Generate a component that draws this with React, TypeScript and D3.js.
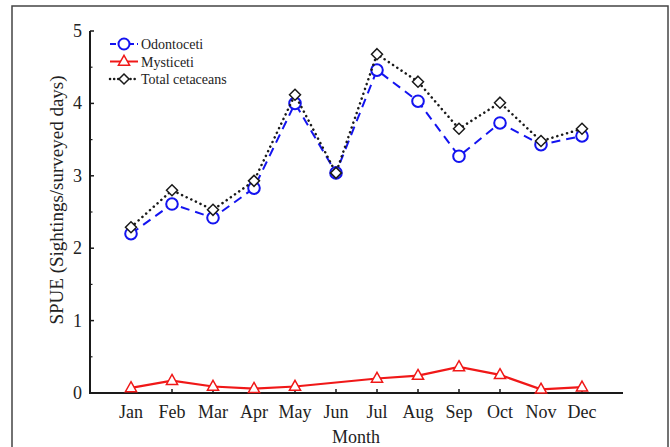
import { useRef, useEffect } from 'react'
import * as d3 from 'd3'

const MONTHS = ['Jan', 'Feb', 'Mar', 'Apr', 'May', 'Jun', 'Jul', 'Aug', 'Sep', 'Oct', 'Nov', 'Dec']
const ODONTOCETI = [2.2, 2.61, 2.42, 2.83, 4.0, 3.04, 4.46, 4.03, 3.27, 3.73, 3.43, 3.55]
const MYSTICETI: (number | null)[] = [0.07, 0.17, 0.09, 0.06, 0.09, null, 0.2, 0.24, 0.36, 0.25, 0.05, 0.08]
const TOTAL = [2.29, 2.8, 2.53, 2.93, 4.12, 3.04, 4.68, 4.3, 3.65, 4.01, 3.48, 3.65]
const Y_TICKS = [0, 1, 2, 3, 4, 5]

const W = 670
const H = 447
const X0 = 90
const X1 = 623
const Y_TOP = 31
const Y_BOT = 393
const FONT = '"Liberation Serif", "Times New Roman", serif'
const BLUE = '#1414f0'
const RED = '#f01818'
const INK = '#1a1a1a'

const tri = (r: number) => `M0,${-r} L${r * 0.9},${r * 0.6} L${-r * 0.9},${r * 0.6} Z`
const dia = (r: number) => `M0,${-r} L${r},0 L0,${r} L${-r},0 Z`

export default function App() {
  const svgRef = useRef<SVGSVGElement>(null)

  useEffect(() => {
    if (!svgRef.current) return
    const svg = d3.select(svgRef.current)
    svg.selectAll('*').remove()

    // outer frame
    svg.append('rect')
      .attr('x', 12).attr('y', 6).attr('width', 656).attr('height', 460)
      .attr('fill', 'white').attr('stroke', '#444').attr('stroke-width', 1.5)

    // Jan..Dec sit at 1..12; axis runs from ~0 to 13
    const x = d3.scaleLinear().domain([1, 12]).range([131, 582])
    const y = d3.scaleLinear().domain([0, 5]).range([Y_BOT, Y_TOP])

    const g = svg.append('g').attr('font-family', FONT)

    // y axis
    g.append('line')
      .attr('x1', X0).attr('x2', X0).attr('y1', Y_TOP).attr('y2', Y_BOT)
      .attr('stroke', INK).attr('stroke-width', 2)
    g.selectAll('.ytick')
      .data(Y_TICKS)
      .join('line')
      .attr('x1', X0).attr('x2', X0 + 4)
      .attr('y1', (d) => y(d)).attr('y2', (d) => y(d))
      .attr('stroke', INK).attr('stroke-width', 1.5)
    g.selectAll('.yminor')
      .data(Y_TICKS.slice(0, -1).map((d) => d + 0.5))
      .join('line')
      .attr('x1', X0).attr('x2', X0 + 2.5)
      .attr('y1', (d) => y(d)).attr('y2', (d) => y(d))
      .attr('stroke', INK).attr('stroke-width', 1.2)
    g.selectAll('.ylab')
      .data(Y_TICKS)
      .join('text')
      .attr('x', X0 - 8).attr('y', (d) => y(d) + 6)
      .attr('text-anchor', 'end').attr('font-size', 18).attr('fill', '#222')
      .text((d) => d)

    // x axis
    g.append('line')
      .attr('x1', X0 - 1).attr('x2', X1).attr('y1', Y_BOT).attr('y2', Y_BOT)
      .attr('stroke', INK).attr('stroke-width', 2)
    g.selectAll('.xtick')
      .data(MONTHS)
      .join('line')
      .attr('x1', (_, i) => x(i + 1)).attr('x2', (_, i) => x(i + 1))
      .attr('y1', Y_BOT).attr('y2', Y_BOT - 4)
      .attr('stroke', INK).attr('stroke-width', 1.5)
    g.selectAll('.xlab')
      .data(MONTHS)
      .join('text')
      .attr('x', (_, i) => x(i + 1)).attr('y', Y_BOT + 25)
      .attr('text-anchor', 'middle').attr('font-size', 18).attr('fill', '#222')
      .text((d) => d)

    g.append('text')
      .attr('x', 356).attr('y', 443)
      .attr('text-anchor', 'middle').attr('font-size', 18).attr('fill', '#222')
      .text('Month')
    g.append('text')
      .attr('transform', 'translate(63,200) rotate(-90)')
      .attr('text-anchor', 'middle').attr('font-size', 19).attr('fill', '#222')
      .text('SPUE (Sightings/surveyed days)')

    // series lines
    const line = d3.line<number | null>()
      .defined((d) => d !== null)
      .x((_, i) => x(i + 1))
      .y((d) => y(d as number))

    g.append('path')
      .attr('d', line(ODONTOCETI))
      .attr('fill', 'none').attr('stroke', BLUE).attr('stroke-width', 2)
      .attr('stroke-dasharray', '9,6')
    g.selectAll('.odo')
      .data(ODONTOCETI)
      .join('circle')
      .attr('cx', (_, i) => x(i + 1)).attr('cy', (d) => y(d)).attr('r', 5.8)
      .attr('fill', 'white').attr('stroke', BLUE).attr('stroke-width', 2)

    const mysti = MYSTICETI.map((v, i) => ({ v, i })).filter((d) => d.v !== null)
    const mLine = d3.line<{ v: number | null; i: number }>()
      .x((d) => x(d.i + 1))
      .y((d) => y(d.v as number))
    g.append('path')
      .attr('d', mLine(mysti))
      .attr('fill', 'none').attr('stroke', RED).attr('stroke-width', 2.2)
    g.selectAll('.mys')
      .data(mysti)
      .join('path')
      .attr('transform', (d) => `translate(${x(d.i + 1)},${y(d.v as number)})`)
      .attr('d', tri(6.2))
      .attr('fill', 'white').attr('stroke', RED).attr('stroke-width', 1.5)

    g.append('path')
      .attr('d', line(TOTAL))
      .attr('fill', 'none').attr('stroke', INK).attr('stroke-width', 2.5)
      .attr('stroke-dasharray', '0.1,5').attr('stroke-linecap', 'round')
    g.selectAll('.tot')
      .data(TOTAL)
      .join('path')
      .attr('transform', (d, i) => `translate(${x(i + 1)},${y(d)})`)
      .attr('d', dia(5.5))
      .attr('fill', 'white').attr('stroke', INK).attr('stroke-width', 1.5)

    // legend
    const legend = g.append('g').attr('transform', 'translate(110,44)')
    const items = [
      { label: 'Odontoceti', color: BLUE, dash: '6,3', kind: 'circle' },
      { label: 'Mysticeti', color: RED, dash: null, kind: 'tri' },
      { label: 'Total cetaceans', color: INK, dash: '0.1,4', kind: 'dia' },
    ]
    items.forEach((it, k) => {
      const row = legend.append('g').attr('transform', `translate(0,${k * 17.5})`)
      row.append('line')
        .attr('x1', 0).attr('x2', 28).attr('y1', 0).attr('y2', 0)
        .attr('stroke', it.color).attr('stroke-width', it.kind === 'dia' ? 2.5 : 2)
        .attr('stroke-dasharray', it.dash ?? null)
        .attr('stroke-linecap', it.kind === 'dia' ? 'round' : 'butt')
      if (it.kind === 'circle') {
        row.append('circle').attr('cx', 14).attr('cy', 0).attr('r', 5.5)
          .attr('fill', 'white').attr('stroke', it.color).attr('stroke-width', 2)
      } else if (it.kind === 'tri') {
        row.append('path').attr('transform', 'translate(14,0)').attr('d', tri(6.2))
          .attr('fill', 'white').attr('stroke', it.color).attr('stroke-width', 1.5)
      } else {
        row.append('path').attr('transform', 'translate(14,0)').attr('d', dia(5))
          .attr('fill', 'white').attr('stroke', it.color).attr('stroke-width', 1.5)
      }
      row.append('text')
        .attr('x', 31).attr('y', 5).attr('font-size', 14).attr('fill', '#222')
        .text(it.label)
    })
  }, [])

  return (
    <svg
      ref={svgRef}
      width={W}
      height={H}
      style={{ position: 'absolute', left: 0, top: 0, display: 'block' }}
    />
  )
}
